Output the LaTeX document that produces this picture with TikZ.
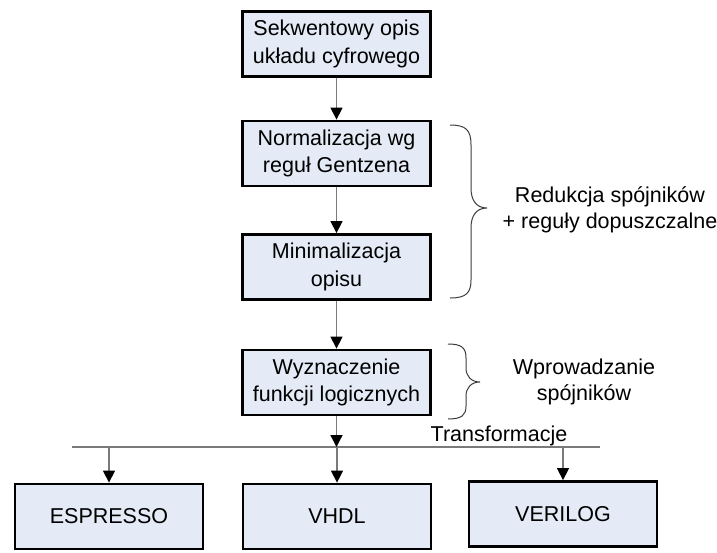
\documentclass[tikz,border=0pt]{standalone}
\usepackage{fontspec}
\setmainfont{Liberation Sans}
\usetikzlibrary{arrows.meta}
\definecolor{boxfill}{HTML}{E4EBF6}
\definecolor{linkgray}{HTML}{7A7A7A}
\definecolor{bracegray}{HTML}{3C3C3C}
\begin{document}
\begin{tikzpicture}[x=1pt,y=-1pt,
  stepbox/.style={draw=black, line width=2.8pt, fill=boxfill, rectangle,
    minimum width=188pt, minimum height=65pt, align=center, inner sep=2pt,
    font=\fontsize{21.5}{27.5}\selectfont},
  label/.style={align=center, inner sep=0pt, font=\fontsize{21.5}{26.5}\selectfont},
  link/.style={draw=linkgray, line width=1.3pt,
    -{Triangle[length=12pt,width=12pt,color=black]}},
  bus/.style={draw=linkgray, line width=1.3pt},
  bracket/.style={draw=bracegray, line width=1pt}]
\useasboundingbox (0,0) rectangle (717,552);
\fill[white] (0,0) rectangle (717,552);

% main chain of processing steps
\node[stepbox] (opis) at (336.5,44) {Sekwentowy opis\\układu cyfrowego};
\node[stepbox] (norm) at (336.5,153.5) {Normalizacja wg\\reguł Gentzena};
\node[stepbox] (mini) at (336.5,267) {Minimalizacja\\opisu};
\node[stepbox] (wyzn) at (336.5,382.5) {Wyznaczenie\\funkcji logicznych};

% target representations
\node[stepbox] (espresso) at (109,516.5) {ESPRESSO};
\node[stepbox] (vhdl) at (337,516.5) {VHDL};
\node[stepbox] (verilog) at (563,514) {VERILOG};

\draw[link] (opis.south) -- (norm.north);
\draw[link] (norm.south) -- (mini.north);
\draw[link] (mini.south) -- (wyzn.north);

% distribution bus
\coordinate (busL) at (72,447);
\coordinate (busR) at (600,447);
\draw[bus] (busL) -- (busR);
\draw[link] (wyzn.south) -- (wyzn.south |- busL);
\draw[link] (espresso.north |- busL) -- (espresso.north);
\draw[link] (vhdl.north |- busL) -- (vhdl.north);
\draw[link] (verilog.north |- busL) -- (verilog.north);
\node[label, anchor=base] (transf) at (499,441) {Transformacje};

% curly brackets with their annotations
\draw[bracket] (450,125) .. controls (466,125) and (471,130) .. (471,145)
  -- (471,188) .. controls (471,200) and (476,208) .. (487,208)
  .. controls (476,208) and (471,216) .. (471,228)
  -- (471,280) .. controls (471,293) and (466,298) .. (450,298);
\node[label] (redukcja) at (610,210) {Redukcja spójników\\+ reguły dopuszczalne};

\draw[bracket] (448,344) .. controls (462,344) and (466,348) .. (466,358)
  -- (466,368) .. controls (466,376) and (471,382) .. (480,382)
  .. controls (471,382) and (466,388) .. (466,396)
  -- (466,406) .. controls (466,415) and (462,419) .. (448,419);
\node[label] (wprow) at (584,382) {Wprowadzanie\\spójników};
\end{tikzpicture}
\end{document}
